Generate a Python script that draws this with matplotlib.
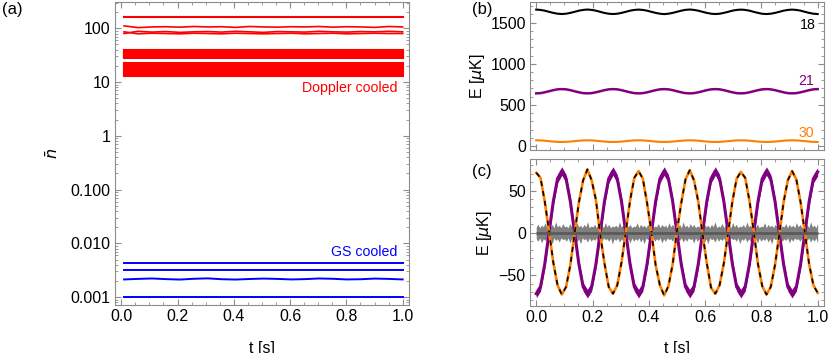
import numpy as np
from matplotlib import pyplot as plt
from matplotlib.ticker import MultipleLocator, NullFormatter

plt.rcParams['font.family'] = ['Liberation Sans', 'DejaVu Sans']
plt.rcParams['font.size'] = 11.5

## panel (a): mean phonon numbers
red_flat = [164]
red_band1 = [28, 29, 30, 31, 32, 33, 34, 35, 36, 37, 38, 39]
red_band2 = [13, 14, 15, 16, 17, 18, 19, 20, 21, 22, 23]
red_w1 = [111, 103, 106, 107, 105, 108, 106, 107, 104, 108, 106, 105, 107, 106, 108, 105, 107, 106, 104, 108, 106]
red_w2 = [80, 88, 85, 87, 84, 86, 87, 85, 88, 86, 84, 87, 86, 85, 88, 86, 85, 87, 86, 88, 86]
red_w3 = [86, 79, 81, 80, 79, 81, 80, 79, 81, 80, 79, 80, 81, 79, 80, 81, 79, 80, 81, 80, 80]
blue_flat = [0.00429, 0.00319, 0.00101]
blue_w = [0.00213, 0.00218, 0.00222, 0.00216, 0.00212, 0.00219, 0.00223, 0.00215, 0.00212, 0.00217, 0.00221,
          0.00218, 0.00213, 0.00216, 0.00222, 0.00219, 0.00213, 0.00215, 0.00221, 0.00218, 0.00213]
t_a = np.linspace(0.01, 1.0, len(red_w1))

## panel (b): total energies
black_b = [1659, 1655, 1646, 1632, 1619, 1609, 1605, 1609, 1619, 1632, 1646, 1655,
           1660, 1655, 1646, 1632, 1618, 1609, 1605, 1609, 1619, 1632, 1646, 1655,
           1659, 1655, 1646, 1632, 1619, 1609, 1604, 1609, 1619, 1632, 1646, 1656,
           1660, 1655, 1646, 1632, 1619, 1609, 1605, 1609, 1619, 1632, 1646, 1655,
           1659, 1655, 1646, 1632, 1619, 1608, 1605, 1609, 1619, 1632, 1646, 1655,
           1659, 1655, 1646, 1632, 1619, 1609, 1605]
purple_b = [640, 643, 653, 666, 679, 689, 692, 689, 679, 666, 653, 643,
            640, 643, 653, 666, 679, 689, 692, 689, 679, 666, 653, 643,
            640, 643, 653, 666, 679, 689, 692, 689, 679, 666, 653, 643,
            640, 643, 653, 666, 679, 689, 692, 689, 679, 666, 653, 643,
            640, 643, 653, 666, 679, 689, 692, 689, 679, 666, 653, 643,
            640, 643, 653, 666, 679, 689, 692]
orange_b = [69, 68, 64, 59, 54, 50, 49, 50, 54, 59, 64, 68,
            69, 68, 64, 59, 54, 50, 49, 50, 54, 59, 64, 68,
            69, 68, 64, 59, 54, 50, 49, 50, 54, 59, 64, 68,
            69, 68, 64, 59, 54, 50, 49, 50, 54, 59, 64, 68,
            69, 68, 64, 59, 54, 50, 49, 50, 54, 59, 64, 68,
            69, 68, 64, 59, 54, 50, 49]
labels_b = ['18', '21', '30']

## panel (c): energy exchange
orange_c = [71, 65, 37, 2, -35, -62, -73, -64, -38, -1, 36, 62,
            75, 62, 39, -2, -36, -64, -72, -62, -35, 1, 38, 65,
            73, 64, 35, 1, -38, -62, -74, -63, -37, 2, 35, 63,
            74, 62, 37, -1, -36, -65, -72, -62, -36, 0, 37, 64,
            72, 65, 38, 2, -37, -63, -73, -64, -38, -2, 36, 62,
            73, 63, 36, 0, -37, -62, -71]
purple_c = [-72, -64, -37, 0, 37, 64, 73, 64, 37, 0, -37, -64,
            -72, -64, -37, 0, 37, 64, 73, 64, 37, 0, -37, -64,
            -72, -64, -37, 0, 37, 64, 73, 64, 37, 0, -37, -64,
            -72, -64, -37, 0, 37, 64, 73, 64, 37, 0, -37, -64,
            -72, -64, -37, 0, 37, 64, 73, 64, 37, 0, -37, -64,
            -72, -64, -37, 0, 37, 64, 72]
purple_c_spread = 5
t_c = np.linspace(0.0, 1.0, len(orange_c))

noise_hi = [7, 10, 6, 9, 7, 12, 6, 8, 7, 10, 6, 13, 7, 9, 6, 11, 7, 8, 6, 11,
            7, 10, 6, 12, 7, 9, 6, 10, 7, 13, 6, 8, 7, 10, 6, 11, 7, 9, 6, 12,
            7, 10, 6, 8, 7, 9, 6, 13, 7, 9, 6, 11, 7, 10, 6, 8, 7, 12, 6, 10,
            7, 9, 6, 10, 7, 13, 6, 8, 7, 11, 6, 10, 7, 9, 6, 12, 7, 10, 6, 8,
            7, 10, 6, 13, 7, 9, 6, 11, 7, 10, 6, 8, 7, 12, 6, 10, 7, 9, 6, 10,
            7, 13, 6, 8, 7, 11, 6, 10, 7, 9, 6, 12, 7, 10, 6, 8, 7, 10, 6, 13,
            7, 9, 6, 11, 7, 10, 6, 8, 7, 12, 6, 10, 7, 9, 6, 10, 7, 13, 6, 8,
            7, 11, 6, 10, 7, 9, 6, 12, 7, 10, 6, 8, 7, 10, 6, 13, 7, 9, 6, 11]
noise_lo = [-7, -10, -6, -12, -7, -9, -6, -11, -7, -13, -6, -9, -7, -11, -6, -8, -7, -10, -6, -12,
            -7, -9, -6, -11, -7, -13, -6, -8, -7, -11, -6, -10, -7, -9, -6, -12, -7, -10, -6, -8,
            -7, -10, -6, -13, -7, -9, -6, -11, -7, -10, -6, -8, -7, -12, -6, -10, -7, -9, -6, -11,
            -7, -13, -6, -8, -7, -11, -6, -10, -7, -9, -6, -12, -7, -10, -6, -8, -7, -10, -6, -13,
            -7, -9, -6, -11, -7, -10, -6, -8, -7, -12, -6, -10, -7, -9, -6, -11, -7, -13, -6, -8,
            -7, -11, -6, -10, -7, -9, -6, -12, -7, -10, -6, -8, -7, -10, -6, -13, -7, -9, -6, -11,
            -7, -10, -6, -8, -7, -12, -6, -10, -7, -9, -6, -11, -7, -13, -6, -8, -7, -11, -6, -10,
            -7, -9, -6, -12, -7, -10, -6, -8, -7, -10, -6, -13, -7, -9, -6, -11, -7, -10, -6, -12]
noise_mean = 0.0
t_n = np.linspace(0.0, 1.0, len(noise_hi))

frame_col = '#8c8c8c'
red = '#ff0000'
blue = '#0000ff'
purple = '#800080'
orange = '#ff8000'


def style(ax):
    ax.tick_params(which='both', direction='in', top=True, right=True, color=frame_col)
    ax.tick_params(which='major', length=4, width=0.8, pad=3)
    ax.tick_params(which='minor', length=2, width=0.6)
    for s in ax.spines.values():
        s.set_color(frame_col)
    ax.xaxis.set_major_locator(MultipleLocator(0.2))
    ax.xaxis.set_minor_locator(MultipleLocator(0.05))
    ax.set_xlim(-0.022, 1.022)


fig = plt.figure(figsize=(8.3, 3.53), dpi=100)

## (a)
ax_a = fig.add_axes([0.1386, 0.136, 0.354, 0.858])
for lev in red_flat + red_band1 + red_band2:
    ax_a.plot([t_a[0], t_a[-1]], [lev, lev], color=red, lw=1.5)
for w in [red_w1, red_w2, red_w3]:
    ax_a.plot(t_a, w, color=red, lw=1.2)
for lev in blue_flat:
    ax_a.plot([t_a[0], t_a[-1]], [lev, lev], color=blue, lw=1.4)
ax_a.plot(t_a, blue_w, color=blue, lw=1.4)
ax_a.set_yscale('log')
ax_a.set_ylim(0.000713, 307)
ax_a.set_yticks([0.001, 0.01, 0.1, 1, 10, 100], ['0.001', '0.010', '0.100', '1', '10', '100'])
ax_a.yaxis.set_minor_formatter(NullFormatter())
style(ax_a)
ax_a.set_xticklabels(['%.1f' % v for v in ax_a.get_xticks()])
ax_a.set_xlim(-0.022, 1.022)
ax_a.text(0.981, 7.9, 'Doppler cooled', color=red, ha='right', va='center', fontsize=10.2)
ax_a.text(0.981, 0.0068, 'GS cooled', color=blue, ha='right', va='center', fontsize=10.2)
ax_a.set_ylabel(r'$\bar{n}$', va='center')
ax_a.yaxis.set_label_coords(-0.212, 0.5)
ax_a.set_xlabel('t [s]')
ax_a.xaxis.set_label_coords(0.5, -0.119)

## (b)
ax_b = fig.add_axes([0.6386, 0.575, 0.354, 0.419])
ax_b.plot(t_c, black_b, color='black', lw=1.5)
ax_b.plot(t_c, purple_b, color=purple, lw=1.8)
ax_b.plot(t_c, orange_b, color=orange, lw=1.5)
ax_b.set_ylim(-49, 1750)
ax_b.yaxis.set_major_locator(MultipleLocator(500))
ax_b.yaxis.set_minor_locator(MultipleLocator(100))
style(ax_b)
ax_b.set_xticklabels([])
ax_b.text(0.993, 1470, labels_b[0], color='black', ha='right', va='center', fontsize=10.2)
ax_b.text(0.986, 790, labels_b[1], color=purple, ha='right', va='center', fontsize=10.2)
ax_b.text(0.986, 158, labels_b[2], color=orange, ha='right', va='center', fontsize=10.2)
ax_b.set_ylabel(r'E [$\mu$K]', va='center')
ax_b.yaxis.set_label_coords(-0.18, 0.5)

## (c)
ax_c = fig.add_axes([0.6386, 0.133, 0.354, 0.416])
pc = np.array(purple_c)
ax_c.fill_between(t_c, pc - purple_c_spread, pc + purple_c_spread, color=purple, lw=0)
ax_c.plot(t_c, purple_c, color=purple, lw=2.2)
ax_c.plot(t_c, orange_c, color=orange, lw=1.9)
ax_c.plot(t_c, orange_c, color='black', lw=1.2, dashes=(3, 3))
ax_c.fill_between(t_n, noise_lo, noise_hi, color='#808080', lw=0)
ax_c.hlines(noise_mean, 0, 1, color='#5a5a5a', lw=2.0)
ax_c.set_ylim(-86.6, 87)
ax_c.yaxis.set_major_locator(MultipleLocator(50))
ax_c.yaxis.set_minor_locator(MultipleLocator(10))
style(ax_c)
ax_c.set_xticklabels(['%.1f' % v for v in ax_c.get_xticks()])
ax_c.set_xlim(-0.022, 1.022)
ax_c.set_ylabel(r'E [$\mu$K]', va='center')
ax_c.yaxis.set_label_coords(-0.156, 0.5)
ax_c.set_xlabel('t [s]')
ax_c.xaxis.set_label_coords(0.5, -0.238)

## panel labels
fig.text(0.0024, 0.972, '(a)', va='center', fontsize=12)
fig.text(0.569, 0.972, '(b)', va='center', fontsize=12)
fig.text(0.569, 0.513, '(c)', va='center', fontsize=12)

plt.savefig('out.png', dpi=100)
